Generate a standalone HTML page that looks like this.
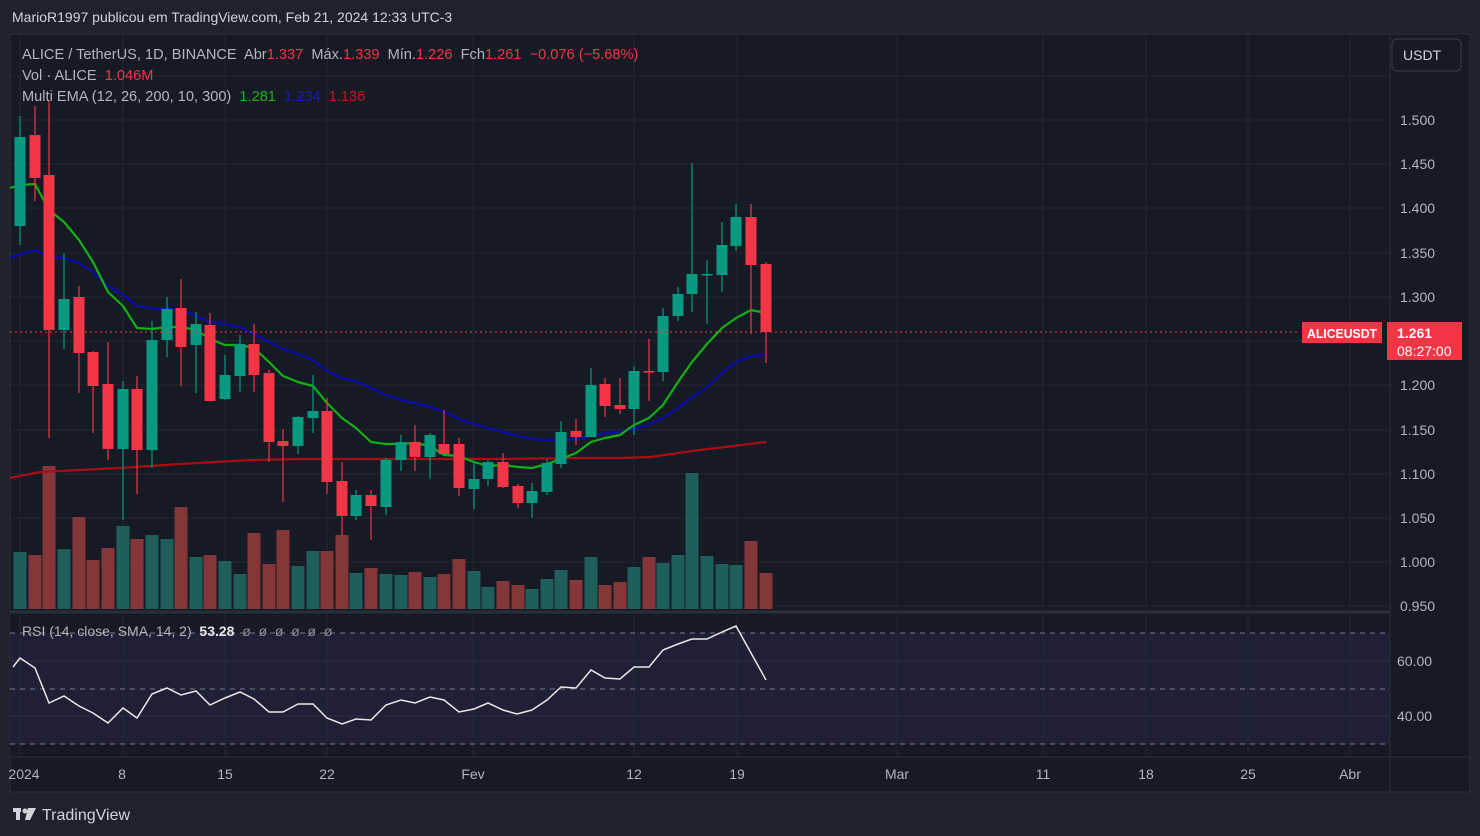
<!DOCTYPE html>
<html><head><meta charset="utf-8"><style>
html,body{margin:0;padding:0;background:#1e222d;width:1480px;height:836px;overflow:hidden;font-family:"Liberation Sans",sans-serif}
svg{position:absolute;left:0;top:0}
text{white-space:pre}
</style></head><body>
<svg id="s" width="1480" height="836" xmlns="http://www.w3.org/2000/svg" font-family="Liberation Sans, sans-serif" xml:space="preserve">
<rect x="0" y="0" width="1480" height="836" fill="#1e222d"/>
<rect x="10" y="34" width="1460" height="758" fill="#161a25" stroke="#2a2e39"/>
<rect x="10" y="615" width="1380" height="140" fill="#161a25"/>
<rect x="10" y="633" width="1380" height="111" fill="#211f36"/>
<line x1="10" y1="612" x2="1390" y2="612" stroke="#2a2e39" stroke-width="3"/>
<line x1="10" y1="757" x2="1470" y2="757" stroke="#2a2e39"/>
<line x1="1390" y1="34" x2="1390" y2="792" stroke="#2a2e39"/>
<g id="grid" stroke="#232732" stroke-width="1"></g>
<g id="rsi"></g>
<g id="vol"></g>
<g id="ema" fill="none" stroke-width="2.2" stroke-linejoin="round"></g>
<g id="cdl"></g>
<line x1="10" y1="332" x2="1300" y2="332" stroke="#f23645" stroke-dasharray="2,3"/>
<text x="12" y="22" font-size="14" fill="#d1d4dc">MarioR1997 publicou em TradingView.com, Feb 21, 2024 12:33 UTC-3</text>
<text x="22" y="59" font-size="14.6" fill="#b2b5be">ALICE / TetherUS, 1D, BINANCE  Abr<tspan fill="#f23645">1.337</tspan>  Máx.<tspan fill="#f23645">1.339</tspan>  Mín.<tspan fill="#f23645">1.226</tspan>  Fch<tspan fill="#f23645">1.261</tspan>  <tspan fill="#f23645">−0.076 (−5.68%)</tspan></text>
<text x="22" y="80" font-size="14.6" fill="#b2b5be">Vol · ALICE  <tspan fill="#f23645">1.046M</tspan></text>
<text x="22" y="101" font-size="14.6" fill="#b2b5be">Multi EMA (12, 26, 200, 10, 300)  <tspan fill="#1bb21b">1.281</tspan>  <tspan fill="#1a1ab4">1.234</tspan>  <tspan fill="#c21a1a">1.136</tspan></text>
<text x="22" y="636" font-size="14" fill="#b2b5be">RSI (14, close, SMA, 14, 2)  <tspan fill="#e8e8ea" font-weight="bold">53.28</tspan>  <tspan fill="#8a8d96">ø  ø  ø  ø  ø  ø</tspan></text>
<g font-size="14" fill="#b2b5be" id="ax"></g>
<rect x="1392" y="39" width="69" height="32" rx="5" fill="#161a25" stroke="#3a3e4a"/>
<text x="1403" y="60" font-size="14" fill="#d1d4dc">USDT</text>
<rect x="1302" y="322" width="80" height="21" fill="#f23645"/>
<text x="1307" y="338" font-size="13" font-weight="bold" fill="#fff" textLength="70" lengthAdjust="spacingAndGlyphs">ALICEUSDT</text>
<rect x="1387" y="322" width="75" height="38" fill="#f23645"/>
<text x="1397" y="338" font-size="14" font-weight="bold" fill="#fff">1.261</text>
<text x="1397" y="356" font-size="14" fill="#fff">08:27:00</text>
<g fill="#d1d4dc"><rect x="13" y="808" width="8" height="4"/><rect x="16" y="808" width="4" height="12"/><circle cx="25" cy="811" r="2.5"/><polygon points="28,808 36,808 30,820 25,820"/></g>
<text x="42" y="820" font-size="16" fill="#d1d4dc">TradingView</text>
</svg>
<script>
const NS="http://www.w3.org/2000/svg";
function el(p,t,a){const e=document.createElementNS(NS,t);for(const k in a)e.setAttribute(k,a[k]);document.getElementById(p).appendChild(e);return e;}
const vx=[20,123,225,327,473,634,737,897,1043,1146,1248,1350];
vx.forEach(x=>{el('grid','line',{x1:x,y1:34,x2:x,y2:608});el('grid','line',{x1:x,y1:615,x2:x,y2:755});});
const py=[76,120,164,208,253,297,341,385,430,474,518,562,606];
py.forEach(y=>el('grid','line',{x1:10,y1:y,x2:1390,y2:y}));
[661,716].forEach(y=>el('grid','line',{x1:10,y1:y,x2:1390,y2:y,stroke:'#2e2c45'}));
[633,689,744].forEach(y=>el('grid','line',{x1:10,y1:y,x2:1390,y2:y,stroke:'#787b86','stroke-dasharray':'5,5'}));
const pl=["","1.500","1.450","1.400","1.350","1.300","","1.200","1.150","1.100","1.050","1.000","0.950"];
pl.forEach((t,i)=>{if(t){const e=el('ax','text',{x:1400,y:py[i]+5});e.textContent=t;}});
[["60.00",661],["40.00",716]].forEach(a=>{const e=el('ax','text',{x:1397,y:a[1]+5});e.textContent=a[0];});
const tl=[["2024",24],["8",122],["15",225],["22",327],["Fev",473],["12",634],["19",737],["Mar",897],["11",1043],["18",1146],["25",1248],["Abr",1350]];
tl.forEach(a=>{const e=el('ax','text',{x:a[1],y:779,'text-anchor':'middle'});e.textContent=a[0];});
const C=[[20,226,137,116,245],[35,135,178,106,201],[49,175,330,100,438],[64,330,299,253,349],[79,297,353,286,393],[93,352,386,351,433],[108,384,449,342,460],[123,449,389,381,520],[137,389,450,376,494],[152,450,340,321,468],[167,340,309,297,357],[181,308,347,279,386],[196,345,324,312,393],[210,325,401,313,401],[225,399,375,355,400],[240,376,344,335,392],[254,344,375,324,392],[269,373,442,370,462],[283,441,446,429,502],[298,446,417,416,454],[313,418,411,375,433],[327,411,482,398,494],[342,481,516,462,535],[356,516,495,490,520],[371,495,506,490,540],[386,507,460,458,515],[401,460,442,435,471],[415,442,457,425,471],[430,457,435,433,479],[444,444,454,410,450],[459,444,488,438,496],[474,489,479,462,509],[488,479,462,460,486],[503,462,487,453,488],[518,486,503,484,508],[532,503,491,483,518],[547,492,463,459,495],[561,464,432,421,468],[576,431,437,419,445],[591,437,385,368,437],[605,384,406,378,417],[620,405,409,378,414],[634,409,371,366,435],[649,371,372,339,401],[663,372,316,308,381],[678,316,294,287,321],[692,294,274,163,312],[707,275,274,260,324],[722,275,245,222,292],[736,246,217,204,251],[751,217,265,204,334],[766,264,332,262,363]];
const V=[552,555,466,549,517,560,548,526,539,535,539,507,557,555,561,574,533,564,530,566,551,551,535,573,568,574,575,572,577,574,559,571,587,581,585,589,579,570,580,557,585,582,567,557,563,555,473,556,564,565,541,573];
C.forEach((c,i)=>{const up=c[2]<c[1];const col=up?'#089981':'#f23645';
el('vol','rect',{x:c[0]-6.5,y:V[i],width:13,height:609-V[i],fill:up?'#1e5e5b':'#843639'});
el('cdl','line',{x1:c[0],y1:c[3],x2:c[0],y2:c[4],stroke:col,'stroke-width':1.2});
const t=Math.min(c[1],c[2]),h=Math.max(1.5,Math.abs(c[2]-c[1]));
el('cdl','rect',{x:c[0]-5.5,y:t,width:11,height:h,fill:col});});
function pl2(p,pts,a){a.points=pts.map(q=>q.join(',')).join(' ');el(p,'polyline',a);}
pl2('ema',[[10,478],[40,472],[80,470],[120,468],[180,464],[250,460],[300,459],[400,459],[500,459],[580,458],[620,458],[650,457],[700,450],[766,442]],{stroke:'#a80d12'});
pl2('ema',[[10,258],[20,254],[35,250],[49,256],[64,258],[79,263],[93,272],[108,286],[123,295],[137,306],[152,308],[167,308],[181,310],[196,316],[210,322],[225,324],[240,327],[254,334],[269,342],[283,349],[298,354],[313,360],[327,371],[342,378],[356,381],[371,388],[386,395],[401,400],[415,403],[430,407],[444,412],[459,419],[474,424],[488,428],[503,432],[518,436],[532,439],[547,440],[561,440],[576,439],[591,436],[605,433],[620,432],[634,429],[649,424],[663,418],[678,408],[692,397],[707,387],[722,373],[736,362],[751,356],[766,355]],{stroke:'#0c0cae'});
pl2('ema',[[10,188],[20,185],[35,184],[49,210],[64,222],[79,240],[93,262],[108,292],[123,306],[137,328],[152,329],[167,327],[181,327],[196,330],[210,339],[225,345],[240,345],[254,348],[269,362],[283,376],[298,382],[313,386],[327,403],[342,418],[356,428],[371,442],[386,444],[401,444],[415,443],[430,446],[444,455],[459,456],[474,462],[488,466],[503,465],[518,467],[532,468],[547,464],[561,459],[576,453],[591,442],[605,438],[620,435],[634,425],[649,418],[663,405],[678,382],[692,362],[707,344],[722,328],[736,318],[751,310],[766,313]],{stroke:'#12b012'});
pl2('rsi',[[13,667],[20,658],[35,668],[49,703],[64,696],[79,706],[93,713],[108,723],[123,708],[137,718],[152,694],[167,688],[181,695],[196,691],[210,705],[225,698],[240,692],[254,699],[269,712],[283,712],[298,704],[313,704],[327,718],[342,724],[356,719],[371,720],[386,705],[401,700],[415,703],[430,697],[444,700],[459,712],[474,709],[488,703],[503,710],[517,714],[532,710],[547,700],[561,687],[576,688],[591,670],[605,678],[620,679],[634,667],[649,667],[663,650],[678,644],[692,639],[707,639],[722,632],[736,626],[766,680]],{fill:'none',stroke:'#e8e8ea','stroke-width':1.5});
</script>
</body></html>
